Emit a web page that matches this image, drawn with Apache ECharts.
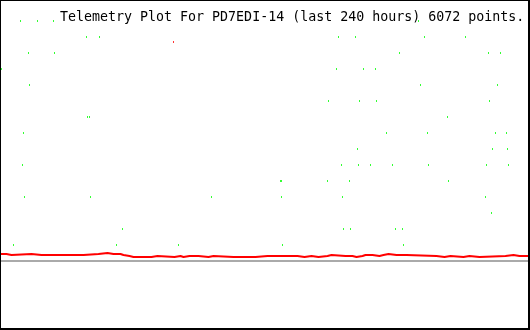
<!DOCTYPE html>
<html>
<head>
<meta charset="utf-8">
<script src="https://cdn.jsdelivr.net/npm/echarts@6/dist/echarts.min.js"></script>
<style>
html,body{margin:0;padding:0;background:#fff;}
#c{width:530px;height:330px;}
</style>
</head>
<body>
<div id="c"></div>
<script>
// Title
const titleText = "Telemetry Plot For PD7EDI-14 (last 240 hours) 6072 points.";

// x unit: time bin (240 h spread over 530 bins); y unit: raw telemetry counts
// Green channel: discrete levels and the bins where a sample was seen at that level
const greenLevels = [240, 224, 208, 192, 176, 160, 144, 128, 112, 96, 80, 64, 48, 32, 16];
const greenBins = [
  [20, 37, 53, 418],
  [86, 99, 338, 355, 424, 465],
  [28, 54, 399, 488, 500],
  [1, 336, 363, 375],
  [29, 420, 497],
  [328, 359, 376, 489],
  [87, 89, 447],
  [23, 386, 427, 495, 506],
  [357, 492, 507],
  [22, 341, 358, 370, 392, 428, 486, 508],
  [280, 281, 327, 349, 448],
  [24, 90, 211, 281, 342, 485],
  [491],
  [122, 343, 350, 395, 402],
  [13, 116, 178, 282, 403]
];

// Red channel: bin where the value changes, and the value from that bin on
const redBin = [0, 6, 11, 31, 41, 43, 45, 47, 83, 98, 107, 113, 115, 120, 123, 129, 133, 135, 147, 149,
  151, 157, 174, 180, 183, 189, 191, 193, 194, 198, 208, 213, 233, 235, 247, 248, 255, 267, 269, 285,
  286, 293, 294, 297, 304, 311, 318, 327, 331, 345, 347, 352, 356, 362, 365, 366, 372, 379, 383, 384,
  385, 388, 396, 398, 406, 436, 444, 450, 463, 469, 479, 505, 513, 519, 521, 529];
const redVal = [7, 6, 7, 6, 7, 6, 7, 6, 7, 8, 7, 6, 7, 6, 5, 4, 5, 4, 5, 4,
  5, 4, 5, 4, 5, 4, 5, 4, 5, 4, 5, 4, 5, 4, 5, 4, 5, 4, 5, 4,
  5, 4, 5, 4, 5, 4, 5, 6, 5, 4, 5, 4, 5, 6, 7, 6, 5, 6, 7, 8,
  7, 6, 5, 6, 5, 4, 5, 4, 5, 4, 5, 6, 5, 6, 5, 5];
// Red outlier sample
const redOutlier = [[173, 219]];
// Baseline
const baselineValue = 0;

const greenData = [];
greenLevels.forEach((lv, i) => greenBins[i].forEach(b => greenData.push([b, lv])));
const redData = redBin.map((b, i) => [b, redVal[i]]);

const chart = echarts.init(document.getElementById('c'), null, {renderer: 'canvas'});
chart.setOption({
  animation: false,
  backgroundColor: '#ffffff',
  title: {
    text: titleText,
    left: 60,
    top: 11,
    padding: 0,
    textStyle: {fontFamily: 'DejaVu Sans Mono', fontSize: 13.3, fontWeight: 'normal', color: '#000'}
  },
  grid: {left: 0, right: 0, top: 0, bottom: 0},
  xAxis: {type: 'value', min: -0.5, max: 529.5, show: false},
  yAxis: {type: 'value', min: -69, max: 261, show: false},
  series: [
    {
      type: 'line',
      data: redData,
      step: 'end',
      symbol: 'none',
      lineStyle: {color: '#ff0000', width: 2},
      z: 3,
      markLine: {
        silent: true,
        symbol: 'none',
        label: {show: false},
        lineStyle: {color: '#aaaaaa', width: 2, type: 'solid'},
        data: [{yAxis: baselineValue}]
      }
    },
    {
      type: 'scatter',
      data: greenData,
      symbol: 'rect',
      symbolSize: [1, 2],
      itemStyle: {color: '#00ff00'},
      z: 4
    },
    {
      type: 'scatter',
      data: redOutlier,
      symbol: 'rect',
      symbolSize: [1, 2],
      itemStyle: {color: '#ff0000'},
      z: 4
    }
  ],
  graphic: [
    {type: 'rect', shape: {x: 0, y: 0, width: 1, height: 330}, style: {fill: '#000'}, z: 100},
    {type: 'rect', shape: {x: 0, y: 0, width: 530, height: 1}, style: {fill: '#000'}, z: 100},
    {type: 'rect', shape: {x: 528, y: 0, width: 2, height: 330}, style: {fill: '#000'}, z: 100},
    {type: 'rect', shape: {x: 0, y: 328, width: 530, height: 2}, style: {fill: '#000'}, z: 100}
  ]
});
</script>
</body>
</html>
